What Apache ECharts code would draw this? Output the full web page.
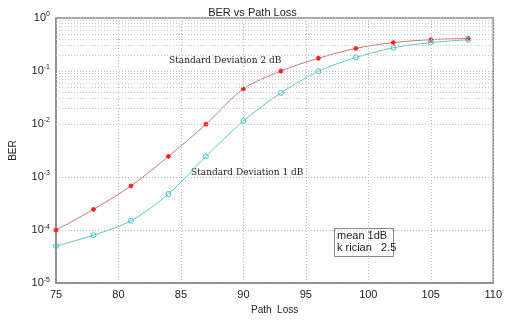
<!DOCTYPE html>
<html><head><meta charset="utf-8">
<script src="https://cdn.jsdelivr.net/npm/echarts@6/dist/echarts.min.js"></script>
<style>html,body{margin:0;padding:0;background:#fff}#c{width:505px;height:320px}</style>
</head><body><div id="c"></div>
<script>
const pathLoss = [75, 78, 81, 84, 87, 90, 93, 96, 99, 102, 105, 108];
const berSd2 = [1.0e-4, 2.45e-4, 6.8e-4, 2.45e-3, 9.9e-3, 0.046, 0.1, 0.174, 0.267, 0.344, 0.39, 0.414];
const berSd1 = [5.0e-5, 8.0e-5, 1.5e-4, 4.8e-4, 2.45e-3, 0.0114, 0.0386, 0.0986, 0.18, 0.275, 0.344, 0.39];
const xTicks = [75, 80, 85, 90, 95, 100, 105, 110];
const yExponents = [0, -1, -2, -3, -4, -5];
const minorLevels = [];
for (let e = -5; e < 0; e++) for (let m = 2; m <= 9; m++) minorLevels.push(m * Math.pow(10, e));

const chart = echarts.init(document.getElementById('c'));
const star = 'path://M0,-5L0,5M-5,0L5,0M-3.5,-3.5L3.5,3.5M-3.5,3.5L3.5,-3.5';
const font = 'Liberation Sans, Arial, sans-serif';
chart.setOption({
  animation: false,
  title: { text: 'BER vs Path Loss', left: 'center', top: 2,
    textStyle: { fontSize: 11, fontWeight: 'normal', color: '#222', fontFamily: font } },
  grid: { left: 53, right: 6, top: 18, bottom: 33, show: true, borderColor: '#8a8a8a', borderWidth: 1.5 },
  xAxis: {
    type: 'value', min: 75, max: 110, interval: 5,
    name: 'Path  Loss', nameLocation: 'middle', nameGap: 20,
    nameTextStyle: { fontSize: 10, color: '#222', fontFamily: font },
    axisLine: { lineStyle: { color: '#8a8a8a', width: 1.5 } },
    axisTick: { show: false },
    axisLabel: { fontSize: 11, color: '#222', fontFamily: font, margin: 6 },
    splitLine: { show: true, lineStyle: { color: '#bdbdbd', type: [1, 2], width: 1 } }
  },
  yAxis: {
    type: 'log', logBase: 10, min: 1e-5, max: 1,
    name: 'BER', nameLocation: 'middle', nameGap: 38, nameRotate: 90,
    nameTextStyle: { fontSize: 10, color: '#222', fontFamily: font },
    axisLine: { lineStyle: { color: '#8a8a8a', width: 1.5 } },
    axisTick: { show: false },
    axisLabel: {
      fontSize: 11, color: '#222', fontFamily: font, margin: 6,
      formatter: v => { const e = Math.round(Math.log10(v)); return '10{s|' + e + '}'; },
      rich: { s: { fontSize: 7, verticalAlign: 'top', padding: [0, 0, 7, 0], fontFamily: font, color: '#222' } }
    },
    splitLine: { show: true, lineStyle: { color: '#bdbdbd', type: [1, 2], width: 1 } }
  },
  graphic: [
    { type: 'text', left: 169, top: 56, style: { text: 'Standard Deviation 2 dB', font: '9px "DejaVu Serif", serif', fill: '#222' } },
    { type: 'text', left: 191, top: 168, style: { text: 'Standard Deviation 1 dB', font: '9px "DejaVu Serif", serif', fill: '#222' } },
    { type: 'rect', left: 334, top: 228, shape: { width: 59, height: 28 }, style: { fill: '#fff', stroke: '#888', lineWidth: 1 } },
    { type: 'text', left: 337, top: 230, style: { text: 'mean 1dB\nk rician   2.5', font: '11px "Liberation Sans", Arial, sans-serif', fill: '#222', lineHeight: 12 } }
  ],
  series: [
    { type: 'line', data: [], silent: true,
      markLine: { silent: true, symbol: 'none', label: { show: false },
        lineStyle: { color: '#c8c8c8', type: [1, 2], width: 1 },
        data: minorLevels.map(v => ({ yAxis: v })) } },
    { name: 'SD 2 dB', type: 'line', smooth: 0.3,
      data: pathLoss.map((x, i) => [x, berSd2[i]]),
      lineStyle: { color: '#c87878', width: 1 },
      symbol: star, symbolSize: 5,
      itemStyle: { color: 'none', borderColor: '#ff2020', borderWidth: 1.2 } },
    { name: 'SD 1 dB', type: 'line', smooth: 0.3,
      data: pathLoss.map((x, i) => [x, berSd1[i]]),
      lineStyle: { color: '#5cc8c8', width: 1 },
      symbol: 'circle', symbolSize: 5,
      itemStyle: { color: 'none', borderColor: '#40c0c0', borderWidth: 1 } }
  ]
});
</script></body></html>
